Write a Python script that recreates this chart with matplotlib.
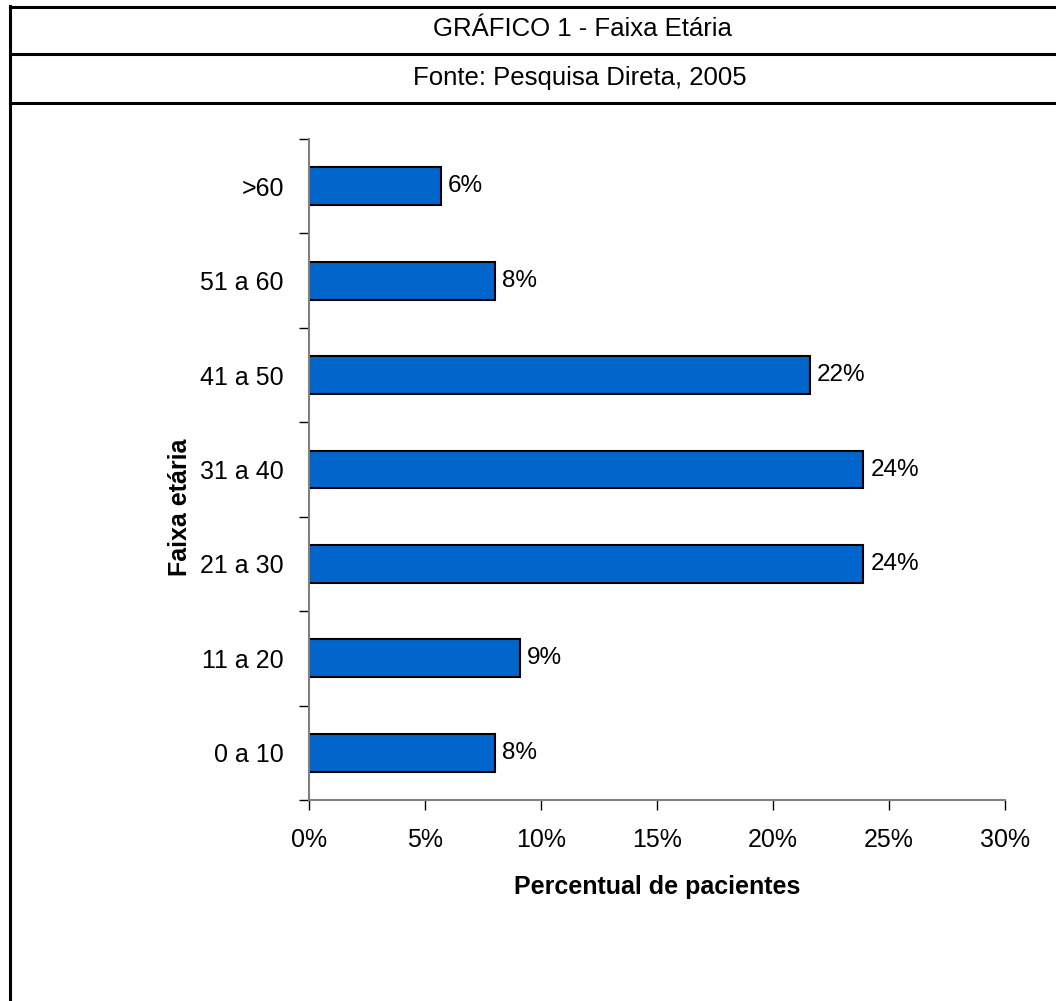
import matplotlib.pyplot as plt
from matplotlib.lines import Line2D
import numpy as np

plt.rcParams['font.family'] = ['Liberation Sans', 'DejaVu Sans']

# dados do grafico
faixas = ['0 a 10', '11 a 20', '21 a 30', '31 a 40', '41 a 50', '51 a 60', '>60']
percentual = [8.0, 9.1, 23.9, 23.9, 21.6, 8.0, 5.7]
xticks = [0, 5, 10, 15, 20, 25, 30]

titulo = 'GRÁFICO 1 - Faixa Etária'
fonte = 'Fonte: Pesquisa Direta, 2005'

W, H = 1056, 1001
fig = plt.figure(figsize=(W / 100, H / 100), dpi=100)

# eixo principal (posicoes em pixels)
x0, x1 = 309, 1005
y0, y1 = 800, 139
ax = fig.add_axes([x0 / W, 1 - y0 / H, (x1 - x0) / W, (y0 - y1) / H])

pos = np.arange(len(faixas))
ax.barh(pos, percentual, height=0.4, color='#0066CC', edgecolor='black', linewidth=1.5)
for p, v in zip(pos, percentual):
    ax.text(v + 0.3, p, '%.0f%%' % round(v), va='center', ha='left', fontsize=17.5)

ax.set_xlim(0, 30)
ax.set_ylim(-0.5, len(faixas) - 0.5)
ax.set_xticks(xticks)
ax.set_xticklabels(['%d%%' % t for t in xticks], fontsize=18)
ax.set_yticks(pos)
ax.set_yticklabels(faixas, fontsize=18)
ax.set_yticks(np.arange(len(faixas) + 1) - 0.5, minor=True)
ax.tick_params(axis='y', which='major', length=0, pad=18)
ax.tick_params(axis='y', which='minor', length=7, width=1, direction='out')
ax.tick_params(axis='x', length=7, width=1, direction='out', pad=13)

for s in ['top', 'right']:
    ax.spines[s].set_visible(False)
for s in ['left', 'bottom']:
    ax.spines[s].set_color('#808080')
    ax.spines[s].set_linewidth(1.5)

fig.text(657 / W, 1 - 887 / H, 'Percentual de pacientes', ha='center', va='center',
         fontsize=18, fontweight='bold')
fig.text(180 / W, 1 - 507 / H, 'Faixa etária', ha='center', va='center',
         rotation=90, fontsize=18, fontweight='bold')

# moldura da tabela
lw = 2.2
def hline(y):
    fig.add_artist(Line2D([9.5 / W, 1], [1 - y / H, 1 - y / H], color='black', lw=lw))
hline(6.5)
hline(53.5)
hline(103)
fig.add_artist(Line2D([9.5 / W, 9.5 / W], [1 - 5.5 / H, 0], color='black', lw=lw))

fig.text(582 / W, 1 - 29 / H, titulo, ha='center', va='center', fontsize=18.5)
fig.text(580 / W, 1 - 78 / H, fonte, ha='center', va='center', fontsize=18.5)

fig.savefig('out.png', dpi=100)
